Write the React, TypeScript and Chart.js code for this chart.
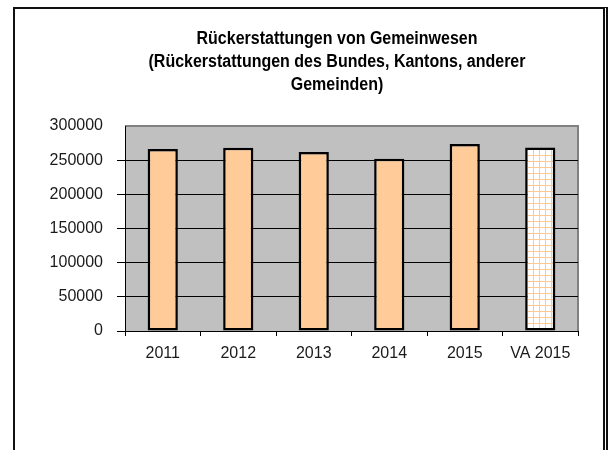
import React, { useEffect, useRef } from "react";
import { Chart, registerables } from "chart.js";

Chart.register(...registerables);

const categories = ["2011", "2012", "2013", "2014", "2015", "VA 2015"];
const values = [266500, 268000, 262000, 252000, 273500, 268500];
const titleLines = [
  "Rückerstattungen von Gemeinwesen",
  "(Rückerstattungen des Bundes, Kantons, anderer",
  "Gemeinden)",
];
const yMin = 0;
const yMax = 300000;
const yStep = 50000;

const FONT = "'Liberation Sans', Arial, sans-serif";

function makePattern(): CanvasPattern | string {
  const c = document.createElement("canvas");
  c.width = 6;
  c.height = 6;
  const g = c.getContext("2d");
  if (!g) return "#ffffff";
  g.fillStyle = "#ffffff";
  g.fillRect(0, 0, 6, 6);
  g.fillStyle = "#FFC992";
  g.fillRect(5, 0, 1, 6);
  g.fillRect(0, 5, 6, 1);
  const p = g.createPattern(c, "repeat");
  return p || "#ffffff";
}

const plotBg = {
  id: "plotBg",
  beforeDraw(chart: any) {
    const { ctx, chartArea } = chart;
    if (!chartArea) return;
    ctx.save();
    ctx.fillStyle = "#C0C0C0";
    ctx.fillRect(chartArea.left, chartArea.top, chartArea.right - chartArea.left, chartArea.bottom - chartArea.top);
    ctx.strokeStyle = "#808080";
    ctx.lineWidth = 2;
    ctx.beginPath();
    ctx.moveTo(chartArea.left, chartArea.top);
    ctx.lineTo(chartArea.right, chartArea.top);
    ctx.lineTo(chartArea.right, chartArea.bottom);
    ctx.stroke();
    ctx.restore();
  },
};

const titleDraw = {
  id: "titleDraw",
  afterDraw(chart: any) {
    const { ctx } = chart;
    const sy = 1.15;
    ctx.save();
    ctx.fillStyle = "#000000";
    ctx.font = `bold 16px ${FONT}`;
    ctx.textAlign = "center";
    ctx.textBaseline = "middle";
    ctx.scale(1, sy);
    titleLines.forEach((line, i) => {
      ctx.fillText(line, 337, (39 + i * 23) / sy);
    });
    ctx.restore();
  },
};

export default function App() {
  const ref = useRef<HTMLCanvasElement | null>(null);

  useEffect(() => {
    if (!ref.current) return;
    const pattern = makePattern();
    const bg = values.map((_, i) => (i === values.length - 1 ? pattern : "#FFCC99"));
    const chart = new Chart(ref.current, {
      type: "bar",
      data: {
        labels: categories,
        datasets: [
          {
            data: values,
            backgroundColor: bg as any,
            borderColor: "#000000",
            borderWidth: 2.5,
            borderSkipped: false,
            barPercentage: 0.4,
            categoryPercentage: 1,
          },
        ],
      },
      options: {
        animation: false,
        responsive: false,
        maintainAspectRatio: false,
        layout: { padding: { left: 0, right: 36, top: 126, bottom: 79 } },
        plugins: {
          legend: { display: false },
          tooltip: { enabled: false },
          title: { display: false },
        },
        scales: {
          x: {
            grid: {
              display: true,
              drawOnChartArea: false,
              offset: true,
              tickLength: 5,
              color: "#000000",
            },
            border: { display: true, color: "#000000", width: 1 },
            ticks: {
              color: "#1a1a1a",
              font: { family: FONT, size: 16 },
              padding: 8,
              maxRotation: 0,
              autoSkip: false,
            },
            afterFit(scale: any) {
              scale.height = 40;
            },
          },
          y: {
            min: yMin,
            max: yMax,
            grid: {
              color: (c: any) => (c.tick && c.tick.value === yMax ? "rgba(0,0,0,0)" : "#000000"),
              lineWidth: 1,
              tickLength: 8,
              drawTicks: true,
            },
            border: { display: true, color: "#000000", width: 1 },
            ticks: {
              stepSize: yStep,
              color: "#1a1a1a",
              font: { family: FONT, size: 16 },
              padding: 14,
              callback: (v: any) => String(v),
            },
            afterFit(scale: any) {
              scale.width = 125;
            },
          },
        },
      },
      plugins: [plotBg, titleDraw],
    });
    return () => chart.destroy();
  }, []);

  return (
    <div style={{ position: "absolute", left: 0, top: 0, width: 614, height: 450, background: "#ffffff", overflow: "hidden" }}>
      <canvas ref={ref} width={614} height={450} style={{ position: "absolute", left: 0, top: 0, width: 614, height: 450 }} />
      <div
        style={{
          position: "absolute",
          left: 13,
          top: 7,
          width: 588,
          height: 460,
          borderLeft: "2px solid #111",
          borderTop: "2px solid #111",
          borderRight: "5px double #111",
          pointerEvents: "none",
        }}
      />
    </div>
  );
}
